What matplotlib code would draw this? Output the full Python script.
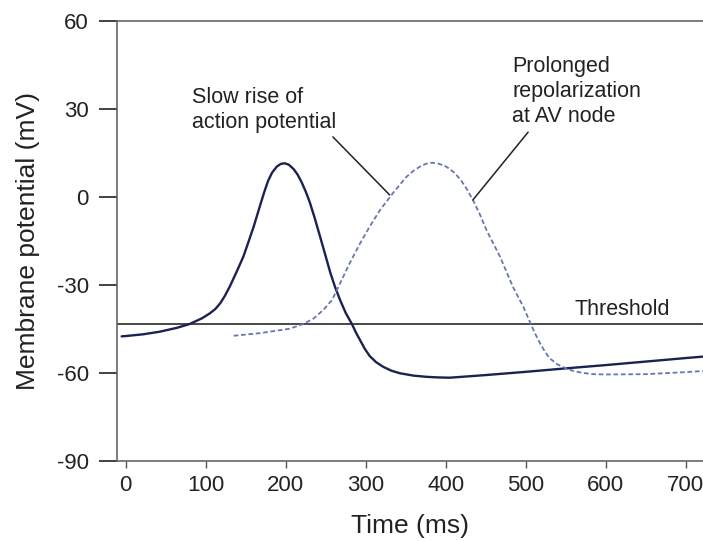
import matplotlib
matplotlib.use("Agg")
import matplotlib.pyplot as plt

plt.rcParams['font.family'] = ['Liberation Sans', 'DejaVu Sans']

# Fast (ventricular-type) action potential, solid trace
fast_t = [-5, 0, 22, 43, 64, 80, 95, 105, 112, 118, 124, 130, 138, 147, 153,
          160, 168, 173, 178, 183, 189, 194, 199, 204, 210, 215, 220, 225,
          230, 236, 243, 250, 256, 262, 268, 275, 283, 288, 293, 299, 305,
          313, 322, 332, 343, 360, 376, 390, 405, 450, 500, 551, 600, 650,
          700, 722]
fast_v = [-47.6, -47.5, -46.9, -46.0, -44.7, -43.4, -41.5, -39.8, -38.3,
          -36.4, -33.8, -30.7, -26.0, -20.5, -15.8, -10.2, -3.0, 1.4, 5.4,
          8.2, 10.3, 11.2, 11.4, 10.9, 9.4, 7.5, 4.9, 1.8, -1.8, -7.0, -13.6,
          -20.3, -26.1, -31.0, -35.2, -39.6, -43.5, -46.4, -48.9, -51.9,
          -54.3, -56.4, -58.0, -59.3, -60.2, -61.0, -61.4, -61.6, -61.7,
          -60.8, -59.7, -58.5, -57.4, -56.2, -55.0, -54.5]

# AV-node action potential, dashed trace
av_t = [135, 168, 205, 222, 235, 247, 258, 268, 280, 293, 305, 318, 334, 343,
        351, 360, 368, 375, 383, 391, 401, 410, 418, 426, 434, 443, 451, 460,
        468, 476, 484, 491, 497, 506, 512, 518, 524, 530, 540, 551, 561, 572,
        585, 600, 650, 700, 722]
av_v = [-47.4, -46.5, -45.0, -43.4, -41.5, -38.6, -35.2, -29.5, -22.7, -15.9,
        -10.2, -4.5, 1.2, 4.2, 6.8, 8.9, 10.3, 11.2, 11.6, 11.3, 10.2, 8.4,
        6.0, 2.8, -1.1, -6.2, -11.4, -16.2, -20.5, -25.6, -30.7, -34.4,
        -37.5, -43.2, -46.8, -50.0, -52.8, -55.1, -57.2, -58.6, -59.5,
        -60.1, -60.5, -60.6, -60.5, -59.8, -59.4]

threshold_mv = -43.4

x_ticks = [0, 100, 200, 300, 400, 500, 600, 700]
y_ticks = [60, 30, 0, -30, -60, -90]

fig = plt.figure(figsize=(7.03, 5.41), dpi=100)
ax = fig.add_axes([0.166, 0.1484, 0.834, 0.8133])

ax.axhline(threshold_mv, color='#2a2a2a', lw=1.2, zorder=2)
ax.plot(fast_t, fast_v, color='#1b2150', lw=1.7, solid_joinstyle='round',
        solid_capstyle='round', zorder=3)
ax.plot(av_t, av_v, color='#6577b0', lw=1.3, dashes=(2.6, 1.5),
        dash_joinstyle='round', zorder=3)

ax.set_xlim(-11.2, 721.6)
ax.set_ylim(-90, 60)
ax.set_xticks(x_ticks)
ax.set_yticks(y_ticks)
ax.set_yticklabels([str(v) for v in y_ticks])

for side in ('left', 'bottom', 'top'):
    ax.spines[side].set_color('#5a5a5a')
    ax.spines[side].set_linewidth(1.1)
ax.spines['right'].set_visible(False)

ax.tick_params(axis='y', direction='out', length=13, width=1.3,
               color='#333333', pad=7, labelsize=16, labelcolor='#222222')
ax.tick_params(axis='x', direction='out', length=5, width=1.0,
               color='#555555', pad=5, labelsize=16, labelcolor='#222222')

ax.set_xlabel('Time (ms)', fontsize=19, color='#222222', labelpad=13)
ax.set_ylabel('Membrane potential (mV)', fontsize=19, color='#222222',
              labelpad=12)

ax.text(83, 37.4, 'Slow rise of\naction potential', fontsize=15.5,
        color='#222222', ha='left', va='top', linespacing=1.25)
ax.text(483, 48.0, 'Prolonged\nrepolarization\nat AV node', fontsize=15.5,
        color='#222222', ha='left', va='top', linespacing=1.25)
ax.text(561, -40.3, 'Threshold', fontsize=15.5, color='#222222',
        ha='left', va='baseline')

ax.annotate('', xy=(330, 0.6), xytext=(259, 20.4),
            arrowprops=dict(arrowstyle='-', lw=1.1, color='#222222',
                            shrinkA=0, shrinkB=0))
ax.annotate('', xy=(434, -1.1), xytext=(503, 22.0),
            arrowprops=dict(arrowstyle='-', lw=1.1, color='#222222',
                            shrinkA=0, shrinkB=0))

fig.savefig('out.png', dpi=100)
